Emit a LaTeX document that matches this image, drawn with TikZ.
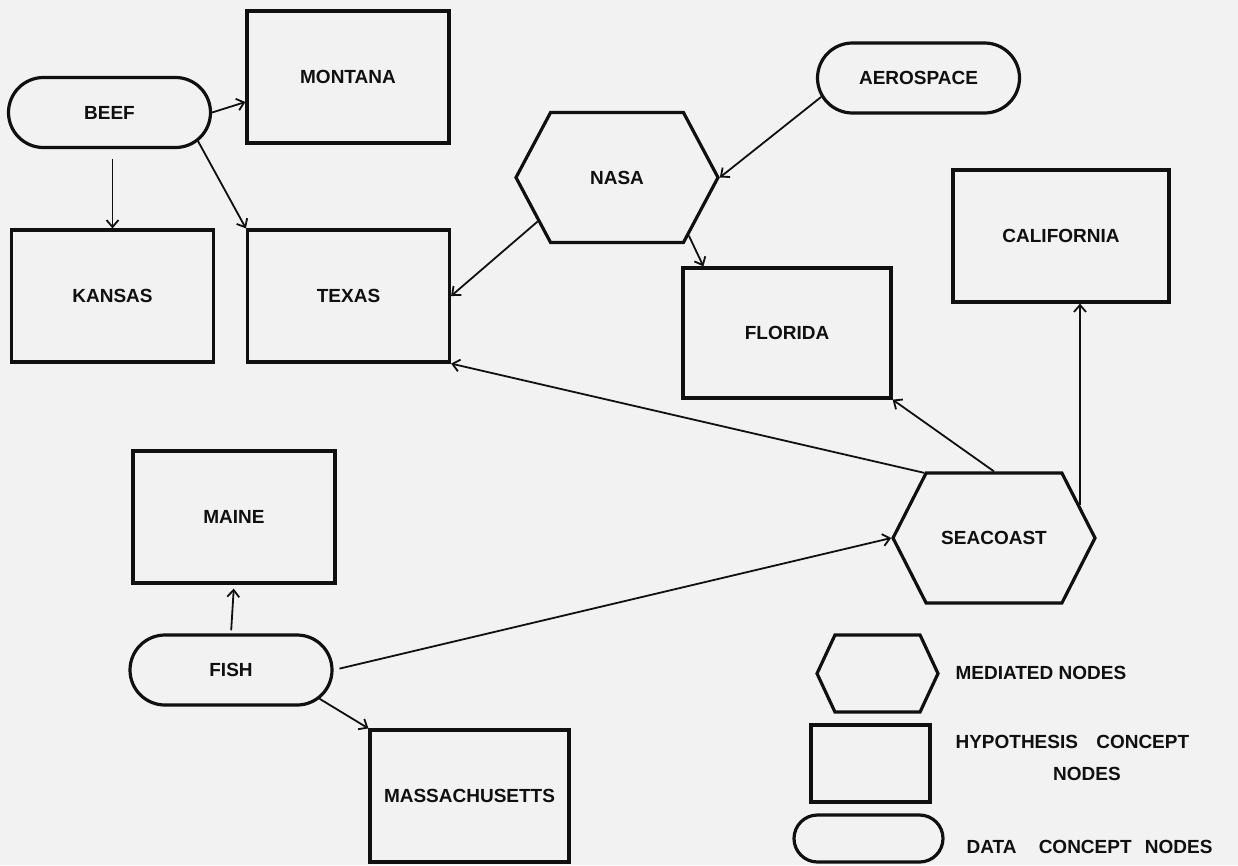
\documentclass[tikz,border=0pt]{standalone}
\usepackage{fontspec}
\setmainfont{Liberation Sans}
\usepackage{xcolor}
\usepackage{tikz}
\usetikzlibrary{arrows.meta,shapes.misc,shapes.symbols}
\definecolor{paper}{HTML}{F2F2F2}
\definecolor{ink}{HTML}{101010}
\tikzset{
  lab/.style={text=ink, font=\bfseries\fontsize{19}{22}\selectfont},
  hypo/.style={lab, rectangle, draw=ink, line width=3.2pt, inner sep=0pt,
    minimum width=202pt, minimum height=132pt},
  datum/.style={lab, rounded rectangle, draw=ink, line width=3.2pt, inner sep=0pt,
    minimum width=202pt, minimum height=70pt},
  mediated/.style={lab, signal, signal to=east and west, signal pointer angle=126,
    draw=ink, line width=3.2pt, inner sep=0pt, minimum width=202pt, minimum height=130pt},
  arr/.style={-{Straight Barb[length=7pt,width=12pt]}, line width=1.8pt, draw=ink}
}
\begin{document}
\begin{tikzpicture}[x=1pt, y=-1pt]
  \fill[paper] (0,0) rectangle (1238,865);
  \useasboundingbox (0,0) rectangle (1238,865);

  \node[datum] (beef) at (109.5,112.5) {BEEF};
  \node[hypo] (montana) at (348,77) {MONTANA};
  \node[datum] (aerospace) at (918.5,78) {AEROSPACE};
  \node[mediated, signal pointer angle=124] (nasa) at (617,177.5) {NASA};
  \node[hypo, minimum width=216pt] (california) at (1061,236) {CALIFORNIA};
  \node[hypo] (kansas) at (112.5,296) {KANSAS};
  \node[hypo] (texas) at (348.5,296) {TEXAS};
  \node[hypo, minimum width=208pt, minimum height=130pt] (florida) at (787,333) {FLORIDA};
  \node[hypo] (maine) at (234,517) {MAINE};
  \node[mediated] (seacoast) at (994,538) {SEACOAST};
  \node[datum] (fish) at (231,670) {FISH};
  \node[hypo, minimum width=199pt] (mass) at (469.5,796) {MASSACHUSETTS};

  \draw[arr] (beef.east) -- ([yshift=-25pt]montana.west);
  \draw[arr, shorten <=10pt] (beef.south -| kansas.north) -- (kansas.north);
  \draw[arr] (beef.-18) -- (texas.north west);
  \draw[arr] (aerospace.191) -- (nasa.east);
  \draw[arr] (nasa.209) -- (texas.east);
  \draw[arr] (nasa.-39) -- ([xshift=22pt]florida.north west);
  \draw[arr] (seacoast.137) -- (texas.south east);
  \draw[arr] (seacoast.north) -- (florida.south east);
  \draw[arr] (seacoast.21) -- (seacoast.21 |- california.south);
  \draw[arr, shorten <=3pt, shorten >=4pt] (fish.north) -- (maine.south);
  \draw[arr, shorten <=6pt] (fish.east) -- (seacoast.west);
  \draw[arr] (fish.-18) -- (mass.north west);

  \node[mediated, signal pointer angle=130, minimum width=121pt, minimum height=77pt] (keymed) at (877.5,673.5) {};
  \node[lab, anchor=west] (keymedtext) at (952,673) {MEDIATED NODES};
  \node[hypo, minimum width=119pt, minimum height=77pt] (keyhypo) at (870.5,763.5) {};
  \node[lab, anchor=west] (keyhypotext) at (952,742) {HYPOTHESIS\hspace{13pt} CONCEPT};
  \node[lab] (keynodes) at (1087,774) {NODES};
  \node[datum, minimum width=149pt, minimum height=47pt] (keydata) at (868.5,838.5) {};
  \node[lab, anchor=west] (keydatatext) at (963,847) {DATA\hspace{17pt} CONCEPT\hspace{8pt} NODES};
\end{tikzpicture}
\end{document}
